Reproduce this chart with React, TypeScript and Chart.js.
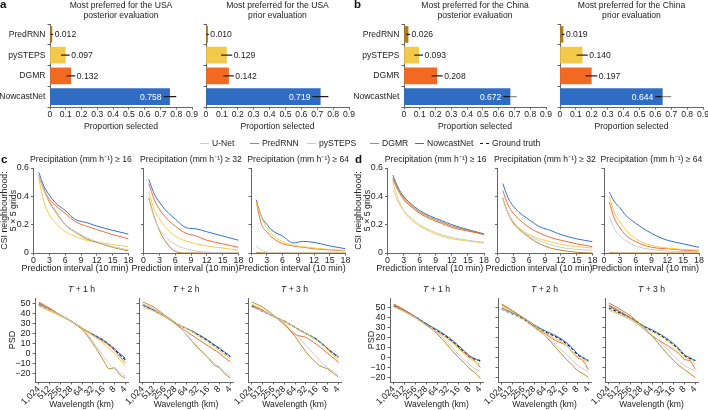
import React, { useEffect, useRef } from 'react';
import { Chart, registerables } from 'chart.js';

Chart.register(...registerables);

const FONT = "'Liberation Sans', Arial, Helvetica, sans-serif";
const FS = 8.6;
const TXT = '#222222';
const AXIS = '#666666';

// ---------- Bar panels (a, b) ----------
const BAR_MODELS = ['PredRNN', 'pySTEPS', 'DGMR', 'NowcastNet'];
const BAR_COLORS = ['#b07a1e', '#f3c94a', '#f26a21', '#2f6cc3'];
const BAR_X_TICKS = [0, 0.1, 0.2, 0.3, 0.4, 0.5, 0.6, 0.7, 0.8, 0.9];

const USA_POSTERIOR = [0.012, 0.097, 0.132, 0.758];
const USA_POSTERIOR_LO = [0.004, 0.07, 0.105, 0.72];
const USA_POSTERIOR_HI = [0.02, 0.125, 0.16, 0.8];

const USA_PRIOR = [0.01, 0.129, 0.142, 0.719];
const USA_PRIOR_LO = [0.004, 0.095, 0.11, 0.67];
const USA_PRIOR_HI = [0.018, 0.165, 0.175, 0.77];

const CHINA_POSTERIOR = [0.026, 0.093, 0.208, 0.672];
const CHINA_POSTERIOR_LO = [0.015, 0.065, 0.175, 0.63];
const CHINA_POSTERIOR_HI = [0.038, 0.12, 0.245, 0.715];

const CHINA_PRIOR = [0.019, 0.14, 0.197, 0.644];
const CHINA_PRIOR_LO = [0.01, 0.105, 0.16, 0.6];
const CHINA_PRIOR_HI = [0.028, 0.175, 0.235, 0.7];

// ---------- Line panels (c, d) ----------
const LINE_MODELS = ['U-Net', 'PredRNN', 'pySTEPS', 'DGMR', 'NowcastNet', 'Ground truth'];
const LINE_COLORS = ['#cbcbcb', '#b8892e', '#f6cd47', '#f26c3c', '#3571d0', '#1b1b1b'];

// CSI: rows = U-Net, PredRNN, pySTEPS, DGMR, NowcastNet ; x = prediction interval
const CSI_X = [1, 2, 3, 4, 6, 8, 10, 12, 15, 18];
const CSI_X_TICKS = [0, 3, 6, 9, 12, 15, 18];
const CSI_Y_TICKS = [0, 0.2, 0.4, 0.6];

const CSI_C_16 = [
  [0.55, 0.44, 0.37, 0.31, 0.205, 0.15, 0.11, 0.08, 0.045, 0.022],
  [0.54, 0.44, 0.36, 0.3, 0.2, 0.145, 0.1, 0.075, 0.04, 0.015],
  [0.52, 0.36, 0.27, 0.22, 0.15, 0.115, 0.09, 0.078, 0.06, 0.045],
  [0.55, 0.45, 0.38, 0.34, 0.28, 0.22, 0.19, 0.165, 0.13, 0.1],
  [0.57, 0.47, 0.41, 0.36, 0.3, 0.235, 0.215, 0.19, 0.16, 0.133],
];
const CSI_C_32 = [
  [0.38, 0.25, 0.17, 0.12, 0.06, 0.03, 0.013, 0.006, 0.002, 0.0],
  [0.39, 0.26, 0.16, 0.09, 0.012, 0.0, 0.0, 0.0, 0.0, 0.0],
  [0.43, 0.31, 0.24, 0.19, 0.12, 0.085, 0.065, 0.05, 0.035, 0.02],
  [0.49, 0.38, 0.31, 0.26, 0.19, 0.14, 0.12, 0.09, 0.065, 0.04],
  [0.52, 0.42, 0.36, 0.31, 0.24, 0.18, 0.17, 0.15, 0.12, 0.09],
];
const CSI_C_64 = [
  [0.05, 0.02, 0.006, 0.001, 0.0, 0.0, 0.0, 0.0, 0.0, 0.0],
  [0.003, 0.001, 0.0, 0.0, 0.0, 0.0, 0.0, 0.0, 0.0, 0.0],
  [0.36, 0.25, 0.18, 0.13, 0.08, 0.055, 0.045, 0.035, 0.025, 0.018],
  [0.36, 0.2, 0.15, 0.11, 0.066, 0.05, 0.04, 0.03, 0.022, 0.015],
  [0.375, 0.256, 0.204, 0.16, 0.12, 0.071, 0.082, 0.075, 0.05, 0.03],
];
const CSI_D_16 = [
  [0.45, 0.36, 0.3, 0.26, 0.2, 0.16, 0.13, 0.11, 0.09, 0.075],
  [0.53, 0.45, 0.39, 0.35, 0.29, 0.25, 0.22, 0.19, 0.16, 0.132],
  [0.5, 0.38, 0.3, 0.25, 0.19, 0.15, 0.12, 0.1, 0.085, 0.07],
  [0.52, 0.44, 0.38, 0.34, 0.28, 0.24, 0.21, 0.18, 0.155, 0.13],
  [0.55, 0.46, 0.4, 0.36, 0.3, 0.26, 0.23, 0.2, 0.165, 0.135],
];
const CSI_D_32 = [
  [0.39, 0.28, 0.22, 0.18, 0.12, 0.085, 0.06, 0.04, 0.025, 0.02],
  [0.39, 0.28, 0.21, 0.17, 0.11, 0.065, 0.035, 0.02, 0.005, 0.0],
  [0.38, 0.28, 0.22, 0.18, 0.13, 0.1, 0.08, 0.06, 0.045, 0.035],
  [0.44, 0.34, 0.28, 0.24, 0.18, 0.14, 0.11, 0.09, 0.065, 0.045],
  [0.49, 0.39, 0.33, 0.29, 0.235, 0.185, 0.16, 0.13, 0.1, 0.08],
];
const CSI_D_64 = [
  [0.26, 0.17, 0.12, 0.09, 0.05, 0.03, 0.02, 0.015, 0.01, 0.01],
  [0.002, 0.001, 0.0, 0.0, 0.0, 0.0, 0.0, 0.0, 0.0, 0.0],
  [0.4, 0.28, 0.22, 0.17, 0.1, 0.065, 0.045, 0.035, 0.025, 0.02],
  [0.36, 0.24, 0.18, 0.13, 0.08, 0.05, 0.035, 0.03, 0.02, 0.015],
  [0.43, 0.36, 0.32, 0.27, 0.21, 0.16, 0.12, 0.09, 0.065, 0.04],
];

// PSD: rows = U-Net, PredRNN, pySTEPS, DGMR, NowcastNet, Ground truth
// x = position on the wavelength axis (0 = 1,024 km ... 8 = 4 km)
const PSD_X = [0, 1, 2, 3, 4, 5, 6, 6.5, 7, 7.5, 8];
const PSD_X_TICKS = [0, 1, 2, 3, 4, 5, 6, 7, 8];
const PSD_X_LABELS = ['1,024', '512', '256', '128', '64', '32', '16', '8', '4'];
const PSD_Y_TICKS = [-20, -10, 0, 10, 20, 30, 40, 50];

const PSD_C_1 = [
  [48, 43, 38, 32, 25, 12, -3, -10, -15, -19, -22],
  [51, 45, 38, 32, 24, 10, -7, -15, -14, -21, -24],
  [47, 42, 37, 32, 26, 18, 10, 5, 0, -6, -12],
  [50, 44, 38, 32, 25, 18, 12, 8, 3, -3, -9],
  [49, 44, 38, 32, 25, 19, 13, 9, 5, 0, -4.5],
  [48, 43, 38, 32, 25, 19, 13, 9, 4, -1, -6],
];
const PSD_C_2 = [
  [49, 44, 37, 29, 19, 7, -4, -9, -13, -18, -22],
  [51, 46, 38, 30, 18.5, 6, -4.5, -11, -14, -20, -24],
  [46, 42, 36, 30, 25, 18, 11, 7, 3, -1, -5],
  [49, 44, 37, 29, 22, 14.5, 7.5, 4, 0.5, -4, -8],
  [48, 43, 37, 30, 25, 19.5, 13, 9, 5.5, 1.5, -2.5],
  [48, 43, 37, 30, 25, 19, 12.5, 8.5, 5, 1, -3],
];
const PSD_C_3 = [
  [46, 42, 37, 30, 20, 8, -3, -9, -14, -17, -21],
  [51, 46, 38, 29, 17, 2, -9.5, -13, -15, -19, -23],
  [49, 44, 37, 32, 26, 20, 13, 9, 4, -1, -6],
  [48, 43, 37, 29, 19, 16, 9, 5, 0.5, -4, -8.5],
  [47, 42, 37, 32, 26, 20, 14, 10, 5, 1, -3],
  [47, 42, 37, 32, 26, 20, 14, 9.5, 5, 0.5, -3.5],
];
const PSD_D_1 = [
  [51, 46, 40, 32, 25, 15, 3, -2, -7, -11, -14],
  [53, 47, 40, 33, 24, 12, 0, -5, -11, -15, -21],
  [51, 46, 40, 33, 26, 19, 9, 4, -1, -4, -7],
  [54, 48, 41, 33, 26, 19, 10, 5, 1, -3, -10],
  [53, 47, 41, 34, 28, 21, 12, 7, 2, -1, -4],
  [52, 47, 41, 34, 27, 20, 11, 6, 1, -1.5, -3],
];
const PSD_D_2 = [
  [49, 44, 38, 30, 22, 13, 3, -2, -8, -11, -14],
  [54, 47, 40, 31, 22, 10, -2, -7, -13, -16, -20],
  [51, 46, 40, 32, 25, 19, 12, 6, 1, -2, -5],
  [53, 47, 40, 32, 24, 17, 12, 6, 0, -3, -12],
  [50, 45, 40, 33, 27, 22, 15, 10, 4, 0, -3],
  [49, 44, 39, 32, 26, 21, 14, 9, 3, 0, -3],
];
const PSD_D_3 = [
  [48, 43, 38, 31, 23, 13, 2, -3, -8, -11, -14],
  [55, 49, 42, 33, 22, 9, -3, -8, -12, -16, -20],
  [49, 44, 39, 32, 26, 20, 12, 7, 1, -2, -6],
  [53, 47, 40, 31, 22, 15, 8, 4, -2, -3, -12],
  [52, 46, 40, 33, 28, 22, 14, 9, 3, 0, -3],
  [50, 45, 40, 33, 27, 21, 13, 8, 2, -1, -3],
];

// ---------- helpers ----------
const font = (size = FS, lineHeight = 1) => ({ family: FONT, size, lineHeight });

function frame(box: any, area: any) {
  return {
    padding: { left: 0, top: area.T - box.t, right: box.l + box.w - area.R, bottom: 0 },
    yW: area.L - box.l,
    xH: box.t + box.h - area.B,
  };
}

// Draws the title above the plot area and, optionally, an x-axis title below it.
function titlePlugin(lines: string[], offsets: number[], italicPrefix = '', bottom: any = null) {
  return {
    id: 'topTitle',
    afterDraw(chart: any) {
      const { ctx, chartArea } = chart;
      const cx = (chartArea.left + chartArea.right) / 2;
      ctx.save();
      ctx.fillStyle = TXT;
      ctx.textBaseline = 'middle';
      lines.forEach((ln, i) => {
        const y = chartArea.top - offsets[i];
        if (italicPrefix) {
          ctx.font = `italic ${FS}px ${FONT}`;
          const w1 = ctx.measureText(italicPrefix).width;
          ctx.font = `${FS}px ${FONT}`;
          const w2 = ctx.measureText(ln).width;
          const x0 = cx - (w1 + w2) / 2;
          ctx.textAlign = 'left';
          ctx.font = `italic ${FS}px ${FONT}`;
          ctx.fillText(italicPrefix, x0, y);
          ctx.font = `${FS}px ${FONT}`;
          ctx.fillText(ln, x0 + w1, y);
        } else {
          ctx.font = `${FS}px ${FONT}`;
          ctx.textAlign = 'center';
          ctx.fillText(ln, cx, y);
        }
      });
      if (bottom) {
        ctx.font = `${bottom.size}px ${FONT}`;
        ctx.textAlign = 'center';
        ctx.fillText(bottom.text, cx + bottom.dx, chartArea.bottom + bottom.dy);
      }
      ctx.restore();
    },
  };
}

function errPlugin(values: number[], lo: number[], hi: number[], grayIdx = -1) {
  return {
    id: 'errbars',
    afterDatasetsDraw(chart: any) {
      const { ctx } = chart;
      const xs = chart.scales.x;
      const ys = chart.scales.y;
      ctx.save();
      ctx.lineWidth = 1.2;
      ctx.font = `${FS}px ${FONT}`;
      ctx.textBaseline = 'middle';
      values.forEach((v, i) => {
        const py = ys.getPixelForValue(i);
        const a = xs.getPixelForValue(lo[i]);
        const b = xs.getPixelForValue(hi[i]);
        const e = xs.getPixelForValue(v);
        ctx.strokeStyle = '#1a1a1a';
        ctx.beginPath();
        ctx.moveTo(a, py);
        ctx.lineTo(i === grayIdx ? e : b, py);
        ctx.stroke();
        if (i === grayIdx) {
          ctx.strokeStyle = '#8c8c8c';
          ctx.beginPath();
          ctx.moveTo(e, py);
          ctx.lineTo(b, py);
          ctx.stroke();
        }
        const label = v.toFixed(3);
        if (i === values.length - 1) {
          ctx.fillStyle = '#ffffff';
          ctx.textAlign = 'right';
          ctx.fillText(label, a - 2, py + 0.5);
        } else {
          ctx.fillStyle = TXT;
          ctx.textAlign = 'left';
          ctx.fillText(label, b + 1.5, py + 0.5);
        }
      });
      ctx.restore();
    },
  };
}

function barConfig(box: any, area: any, values: number[], lo: number[], hi: number[], title: string[], showLabels: boolean, grayIdx = -1) {
  const f = frame(box, area);
  return {
    type: 'bar',
    data: {
      datasets: [
        {
          data: values.map((v, i) => ({ x: v, y: i })),
          backgroundColor: BAR_COLORS,
          borderWidth: 0,
          barThickness: 16,
        },
      ],
    },
    options: {
      indexAxis: 'y',
      responsive: false,
      animation: false,
      devicePixelRatio: 1,
      events: [],
      layout: { padding: f.padding },
      plugins: { legend: { display: false }, tooltip: { enabled: false } },
      scales: {
        x: {
          type: 'linear',
          min: 0,
          max: 0.9,
          offset: false,
          afterFit: (s: any) => { s.height = f.xH; },
          afterBuildTicks: (s: any) => { s.ticks = BAR_X_TICKS.map((v) => ({ value: v })); },
          ticks: {
            font: font(), color: TXT, padding: 1, maxRotation: 0, autoSkip: false,
            callback: (v: any) => (v === 0 ? '0' : Number(v).toFixed(1)),
          },
          grid: { drawOnChartArea: false, drawTicks: true, tickLength: 2.5, color: AXIS },
          border: { display: true, color: AXIS, width: 1 },
          title: { display: true, text: 'Proportion selected', font: font(FS, 1.2), color: TXT, padding: 0 },
        },
        y: {
          type: 'linear',
          min: -0.5,
          max: 3.5,
          reverse: true,
          offset: false,
          afterFit: (s: any) => { s.width = f.yW; },
          afterBuildTicks: (s: any) => { s.ticks = BAR_MODELS.map((_, i) => ({ value: i })); },
          ticks: {
            display: showLabels, font: font(), color: TXT, padding: 2, autoSkip: false,
            callback: (v: any) => BAR_MODELS[v] ?? '',
          },
          grid: { drawOnChartArea: false, drawTicks: true, tickLength: 2.5, color: AXIS },
          border: { display: true, color: AXIS, width: 1 },
        },
      },
    },
    plugins: [titlePlugin(title, [18, 8.5]), errPlugin(values, lo, hi, grayIdx)],
  };
}

function lineConfig(opts: any) {
  const f = frame(opts.box, opts.area);
  const datasets = opts.series.map((vals: number[], k: number) => ({
    label: LINE_MODELS[k],
    data: opts.xs.map((x: number, i: number) => ({ x, y: vals[i] })),
    borderColor: LINE_COLORS[k],
    borderWidth: k === 5 ? 1.2 : 1,
    borderDash: k === 5 ? [3, 2] : [],
    pointRadius: 0,
    fill: false,
    cubicInterpolationMode: 'monotone',
  }));
  return {
    type: 'line',
    data: { datasets },
    options: {
      responsive: false,
      animation: false,
      devicePixelRatio: 1,
      events: [],
      layout: { padding: f.padding },
      plugins: { legend: { display: false }, tooltip: { enabled: false } },
      scales: {
        x: {
          type: 'linear',
          min: opts.xMin,
          max: opts.xMax,
          afterFit: (s: any) => { s.height = f.xH; },
          afterBuildTicks: (s: any) => { s.ticks = opts.xTicks.map((v: number) => ({ value: v })); },
          ticks: {
            font: font(opts.tickSize), color: TXT, padding: opts.rotate ? 0 : 0.5, autoSkip: false,
            minRotation: opts.rotate ? 45 : 0, maxRotation: opts.rotate ? 45 : 0,
            callback: opts.xTickCb,
          },
          grid: { drawOnChartArea: false, drawTicks: true, tickLength: 2.5, color: AXIS },
          border: { display: true, color: AXIS, width: 1 },
          title: opts.xTitleScale
            ? { display: true, text: opts.xTitle, font: font(FS, 1.2), color: TXT, padding: { top: 0, bottom: 0 } }
            : { display: false },
        },
        y: {
          type: 'linear',
          min: opts.yMin,
          max: opts.yMax,
          afterFit: (s: any) => { s.width = f.yW; },
          afterBuildTicks: (s: any) => { s.ticks = opts.yTicks.map((v: number) => ({ value: v })); },
          ticks: { display: opts.showY, font: font(opts.tickSize), color: TXT, padding: 2, autoSkip: false, callback: opts.yTickCb },
          grid: { drawOnChartArea: false, drawTicks: true, tickLength: 2.5, color: AXIS },
          border: { display: true, color: AXIS, width: 1 },
          title: opts.yTitle
            ? { display: true, text: opts.yTitle, font: font(opts.yTitleSize, opts.yTitleLH || 1.1), color: TXT, padding: { top: opts.yTitlePad, bottom: 0 } }
            : { display: false },
        },
      },
    },
    plugins: [titlePlugin([opts.title], [8], opts.italic || '', opts.bottom || null)],
  };
}

const csiYCb = (v: any) => (v === 0 ? '0' : Number(v).toFixed(1));
const psdYCb = (v: any) => (v < 0 ? '\u2212' + Math.abs(v) : String(v));
const psdXCb = (v: any) => PSD_X_LABELS[v] ?? '';

function csiChart(box: any, area: any, series: number[][], thr: string, first: boolean) {
  return lineConfig({
    box, area, xs: CSI_X, series, xMin: 0, xMax: 18, xTicks: CSI_X_TICKS, yTicks: CSI_Y_TICKS,
    yMin: 0, yMax: 0.6, xTickCb: (v: any) => String(v), yTickCb: csiYCb, showY: first, tickSize: 8.8,
    yTitle: first ? ['CSI neighbourhood:', '5 \u00d7 5 grids'] : null, yTitlePad: 0, yTitleSize: 8.8, yTitleLH: 1.02,
    xTitleScale: false,
    bottom: { text: 'Prediction interval (10 min)', size: 9, dx: -6, dy: 16 },
    rotate: false,
    title: `Precipitation (mm h\u207b\u00b9) \u2265 ${thr}`,
  });
}

function psdChart(box: any, area: any, series: number[][], hour: string, first: boolean, yMin: number, yMax: number, yPad: number) {
  return lineConfig({
    box, area, xs: PSD_X, series, xMin: -0.35, xMax: 8.25, xTicks: PSD_X_TICKS, yTicks: PSD_Y_TICKS,
    yMin, yMax, xTickCb: psdXCb, yTickCb: psdYCb, showY: first, tickSize: 9,
    yTitle: first ? 'PSD' : null, yTitlePad: yPad, yTitleSize: 9,
    xTitle: 'Wavelength (km)', xTitleScale: true, rotate: true,
    title: ` + ${hour} h`, italic: 'T',
  });
}

const BT = 0, BH = 132;
const CT = 150, CH = 125;
const PT = 280, PH = 130;

const CHARTS: { box: any; make: () => any }[] = [];
function add(box: any, make: (b: any) => any) {
  CHARTS.push({ box, make: () => make(box) });
}

// a
add({ l: 0, t: BT, w: 200, h: BH }, (b) => barConfig(b, { L: 50, T: 24, R: 192, B: 107 }, USA_POSTERIOR, USA_POSTERIOR_LO, USA_POSTERIOR_HI, ['Most preferred for the USA', 'posterior evaluation'], true));
add({ l: 200, t: BT, w: 158, h: BH }, (b) => barConfig(b, { L: 206, T: 24, R: 349, B: 107 }, USA_PRIOR, USA_PRIOR_LO, USA_PRIOR_HI, ['Most preferred for the USA', 'prior evaluation'], false));
// b
add({ l: 354, t: BT, w: 200, h: BH }, (b) => barConfig(b, { L: 404, T: 24, R: 546, B: 107 }, CHINA_POSTERIOR, CHINA_POSTERIOR_LO, CHINA_POSTERIOR_HI, ['Most preferred for the China', 'posterior evaluation'], true, 3));
add({ l: 552, t: BT, w: 162, h: BH }, (b) => barConfig(b, { L: 560, T: 24, R: 703, B: 107 }, CHINA_PRIOR, CHINA_PRIOR_LO, CHINA_PRIOR_HI, ['Most preferred for the China', 'prior evaluation'], false, 3));
// c CSI
add({ l: 0, t: CT, w: 140, h: CH }, (b) => csiChart(b, { L: 33.5, T: 168, R: 128.5, B: 253 }, CSI_C_16, '16', true));
add({ l: 124, t: CT, w: 124, h: CH }, (b) => csiChart(b, { L: 143.5, T: 168, R: 238.5, B: 253 }, CSI_C_32, '32', false));
add({ l: 232, t: CT, w: 122, h: CH }, (b) => csiChart(b, { L: 251, T: 168, R: 345.5, B: 253 }, CSI_C_64, '64', false));
// d CSI
add({ l: 354, t: CT, w: 140, h: CH }, (b) => csiChart(b, { L: 387.5, T: 168, R: 484, B: 253 }, CSI_D_16, '16', true));
add({ l: 478, t: CT, w: 124, h: CH }, (b) => csiChart(b, { L: 497.5, T: 168, R: 592.5, B: 253 }, CSI_D_32, '32', false));
add({ l: 585, t: CT, w: 123, h: CH }, (b) => csiChart(b, { L: 604, T: 168, R: 699, B: 253 }, CSI_D_64, '64', false));
// c PSD
add({ l: 0, t: PT, w: 136, h: PH }, (b) => psdChart(b, { L: 35, T: 298, R: 128, B: 382 }, PSD_C_1, '1', true, -28, 55, 8));
add({ l: 118, t: PT, w: 122, h: PH }, (b) => psdChart(b, { L: 139, T: 298, R: 233, B: 382 }, PSD_C_2, '2', false, -28, 55, 0));
add({ l: 228, t: PT, w: 118, h: PH }, (b) => psdChart(b, { L: 248, T: 298, R: 341, B: 382 }, PSD_C_3, '3', false, -28, 55, 0));
// d PSD
add({ l: 354, t: PT, w: 136, h: PH }, (b) => psdChart(b, { L: 390, T: 298, R: 483, B: 382 }, PSD_D_1, '1', true, -24.5, 60, 13));
add({ l: 478, t: PT, w: 120, h: PH }, (b) => psdChart(b, { L: 498, T: 298, R: 591, B: 382 }, PSD_D_2, '2', false, -24.5, 60, 0));
add({ l: 585, t: PT, w: 123, h: PH }, (b) => psdChart(b, { L: 605, T: 298, R: 698, B: 382 }, PSD_D_3, '3', false, -24.5, 60, 0));

function ChartCanvas({ box, make }: { box: any; make: () => any }) {
  const ref = useRef<HTMLCanvasElement | null>(null);
  useEffect(() => {
    const chart = new Chart(ref.current as HTMLCanvasElement, make());
    return () => chart.destroy();
  }, []);
  return (
    <canvas
      ref={ref}
      width={box.w}
      height={box.h}
      style={{ position: 'absolute', left: box.l, top: box.t, width: box.w, height: box.h }}
    />
  );
}

const LEGEND_X = [200, 250, 307, 370, 415, 480];

export default function App() {
  const letter = (t: string, l: number, top: number) => (
    <div style={{ position: 'absolute', left: l, top, fontFamily: FONT, fontWeight: 'bold', fontSize: 11.5, lineHeight: '12px', color: '#111' }}>{t}</div>
  );
  return (
    <div style={{ position: 'fixed', left: 0, top: 0, width: 708, height: 410, overflow: 'hidden', background: '#ffffff' }}>
      {CHARTS.map((c, i) => (
        <ChartCanvas key={i} box={c.box} make={c.make} />
      ))}
      {letter('a', 0, -2)}
      {letter('b', 354, -2)}
      {letter('c', 1, 153)}
      {letter('d', 355, 153)}
      {LINE_MODELS.map((m, k) => (
        <div key={m} style={{ position: 'absolute', left: LEGEND_X[k], top: 138, height: 11, display: 'flex', alignItems: 'center' }}>
          <div
            style={{
              width: 9,
              height: 0,
              borderTop: k === 5 ? `1.4px dashed ${LINE_COLORS[k]}` : `1.4px solid ${LINE_COLORS[k]}`,
              marginRight: 3,
            }}
          />
          <span style={{ fontFamily: FONT, fontSize: FS, color: TXT, whiteSpace: 'nowrap', lineHeight: '11px' }}>{m}</span>
        </div>
      ))}
    </div>
  );
}
